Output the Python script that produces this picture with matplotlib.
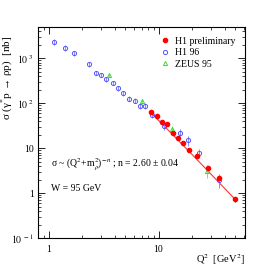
import matplotlib
matplotlib.use("Agg")
import matplotlib.pyplot as plt
from matplotlib.ticker import FixedLocator, LogLocator, NullFormatter
from matplotlib.lines import Line2D
import numpy as np

plt.rcParams['font.family'] = ['Liberation Serif', 'DejaVu Serif']
plt.rcParams['mathtext.fontset'] = 'stix'

# H1 preliminary
h1p_q2 = [8.55, 9.59, 10.7, 11.9, 13.4, 15.0, 16.6, 18.8, 22.3, 28.0, 35.5, 49.3]
h1p_sig = [64, 52.7, 38.4, 33.8, 22.1, 16.5, 12.9, 9.07, 6.81, 3.56, 2.19, 0.73]
h1p_err = [3, 2.5, 2, 1.8, 1.3, 1.0, 0.8, 0.6, 0.5, 0.3, 0.2, 0.08]

# H1 96
h196_q2 = [1.11, 1.41, 1.72, 2.32, 2.72, 3.02, 3.33, 3.86, 4.26, 4.76, 5.39, 6.08,
           6.83, 7.59, 8.73, 11.1, 15.8, 18.7, 23.2, 35.5]
h196_sig = [2340, 1720, 1290, 735, 478, 432, 341, 287, 215, 167, 128, 115,
            89.4, 89.4, 54.1, 30.5, 22.4, 14.9, 7.87, 1.98]
h196_err = [400, 250, 180, 100, 60, 50, 40, 35, 25, 20, 16, 15,
            13, 13, 8, 5, 4, 3.5, 1.6, 0.7]

# ZEUS 95
zeus_q2 = [3.55, 7.13, 13.3, 27.6]
zeus_sig = [419, 110, 26.8, 3.13]
zeus_err = [40, 12, 4, 1.0]

# fit: sigma ~ (Q2 + m_rho^2)^-n
fit_n = 2.60
fit_norm = 19300.0
m_rho2 = 0.593
fit_q2_range = [8.3, 50.0]

red, blue, green = '#ff0000', '#5555ff', '#33dd33'

fig = plt.figure(figsize=(2.73, 2.73), dpi=100)
ax = fig.add_axes([0.139, 0.128, 0.758, 0.773])

qq = np.logspace(np.log10(fit_q2_range[0]), np.log10(fit_q2_range[1]), 100)
ax.plot(qq, fit_norm * (qq + m_rho2) ** (-fit_n), '-', color='#ff3333', lw=0.8, zorder=2)

ax.errorbar(h196_q2, h196_sig, yerr=h196_err, fmt='o', mfc='none', mec=blue,
            ecolor='#8888ff', ms=3, mew=0.7, elinewidth=0.7, capsize=0, zorder=3)
ax.errorbar(zeus_q2, zeus_sig, yerr=zeus_err, fmt='^', mfc='none', mec=green,
            ecolor='#66ee66', ms=3, mew=0.7, elinewidth=0.7, capsize=0, zorder=3)
ax.errorbar(h1p_q2, h1p_sig, yerr=h1p_err, fmt='o', color=red,
            ms=3, elinewidth=0.7, capsize=0, zorder=4)

ax.set_xscale('log')
ax.set_yscale('log')
ax.set_xlim(0.8, 61)
ax.set_ylim(0.1, 5000)

ax.xaxis.set_major_locator(FixedLocator([1, 10]))
ax.set_xticklabels(['1', '10'])
ax.xaxis.set_minor_locator(LogLocator(base=10, subs=np.arange(2, 10)))
ax.xaxis.set_minor_formatter(NullFormatter())
ax.yaxis.set_major_locator(FixedLocator([0.1, 1, 10, 100, 1000]))
ax.set_yticklabels([r'$10^{\ -1}$', '1', '10', r'$10^{\ 2}$', r'$10^{\ 3}$'])
ax.yaxis.set_minor_locator(LogLocator(base=10, subs=np.arange(2, 10)))
ax.yaxis.set_minor_formatter(NullFormatter())

ax.tick_params(which='both', direction='in', top=True, right=True, labelsize=7)
ax.tick_params(axis='y', pad=3)
ax.tick_params(axis='x', pad=5)
ax.tick_params(which='major', length=5, width=0.6)
ax.tick_params(which='minor', length=2.5, width=0.5)
for s in ax.spines.values():
    s.set_linewidth(0.8)

ax.set_ylabel('σ (γ$^{*}$p → ρp)  [nb]', fontsize=8)
ax.yaxis.set_label_coords(-0.11, 0.76)
fig.text(0.897, 0.035, r'Q$^{2}$  [GeV$^{2}$]', ha='right', fontsize=7.5)

ax.text(0.065, 0.335, 'σ ~ (Q$^{2}$+m$_{ρ}^{2}$)$^{-n}$ ; n = 2.60 ± 0.04',
        transform=ax.transAxes, fontsize=7)
ax.text(0.065, 0.225, 'W = 95 GeV', transform=ax.transAxes, fontsize=7)

handles = [
    Line2D([], [], ls='none', marker='o', color=red, ms=3),
    Line2D([], [], ls='none', marker='o', mfc='none', mec=blue, ms=3, mew=0.7),
    Line2D([], [], ls='none', marker='^', mfc='none', mec=green, ms=3, mew=0.7),
]
ax.legend(handles, ['H1 preliminary', 'H1 96', 'ZEUS 95'], loc='upper right',
          fontsize=7, frameon=False, handlelength=0.8, handletextpad=0.6,
          labelspacing=0.25, borderaxespad=0.6)

fig.savefig('out.png', dpi=100)
